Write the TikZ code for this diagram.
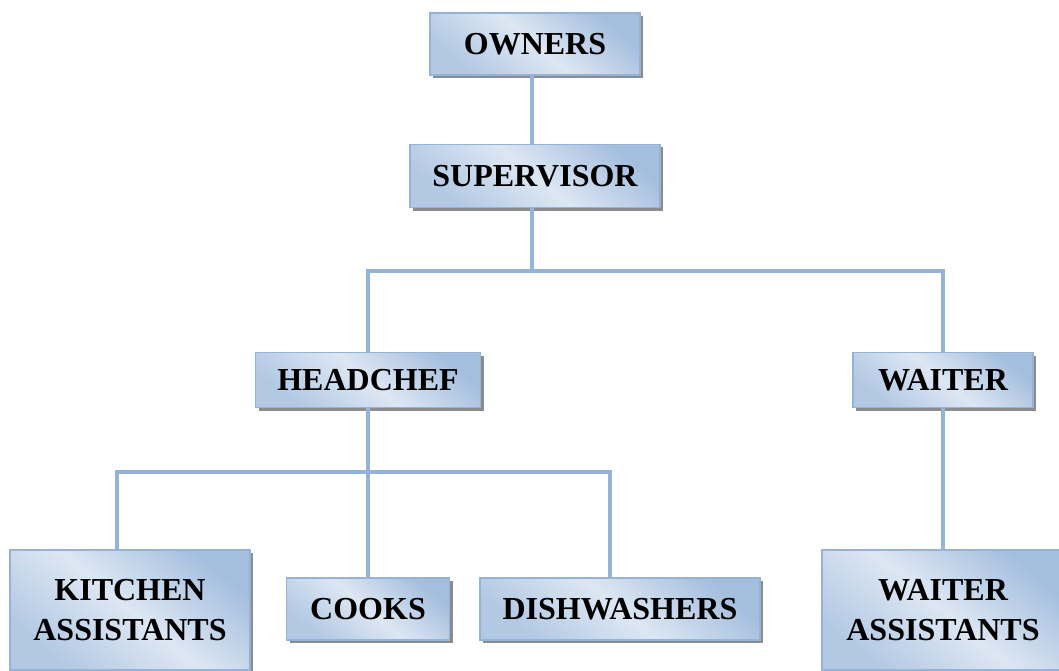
\documentclass[tikz,border=0pt]{standalone}
\usepackage{fontspec}
\setmainfont{Liberation Serif}
\usepackage{tikz}
\usetikzlibrary{shadows}
\definecolor{linkblue}{HTML}{95B3D7}
\definecolor{boxdark}{HTML}{A4BEDE}
\definecolor{boxlight}{HTML}{DDE7F3}
\definecolor{shadowgray}{HTML}{8C8C8C}
\tikzset{
  orgbox/.style={draw=linkblue, line width=1.5pt, top color=boxdark, bottom color=boxdark!85, middle color=boxlight,
    shading angle=-40, align=center, inner sep=0pt,
    font=\fontsize{32}{40}\selectfont\bfseries,
    general shadow={fill=shadowgray, shadow xshift=3pt, shadow yshift=-3pt}},
  link/.style={draw=linkblue, line width=3.5pt}
}

\begin{document}
\begin{tikzpicture}[x=1pt,y=-1pt]
      \useasboundingbox (0,0) rectangle (1059,671);

      %boxes
      \node[orgbox, minimum width=210, minimum height=62] (own) at (535,44) {OWNERS};
      \node[orgbox, minimum width=250, minimum height=63] (sup) at (535,176) {SUPERVISOR};
      \node[orgbox, minimum width=225, minimum height=55] (head) at (368,380) {HEADCHEF};
      \node[orgbox, minimum width=180, minimum height=55] (wait) at (943,380) {WAITER};
      \node[orgbox, minimum width=240, minimum height=120] (kit) at (130,610) {KITCHEN\\ASSISTANTS};
      \node[orgbox, minimum width=163, minimum height=62] (cook) at (368,609) {COOKS};
      \node[orgbox, minimum width=280, minimum height=62] (dish) at (620,609) {DISHWASHERS};
      \node[orgbox, minimum width=242, minimum height=120] (wass) at (943,610) {WAITER\\ASSISTANTS};

      %connectors
      \coordinate (busA) at (532,271);
      \coordinate (busB) at (366,472);
      \draw[link] ([xshift=-3pt]own.south) -- ([xshift=-3pt]sup.north);
      \draw[link] ([xshift=-3pt]sup.south) -- (busA);
      \draw[link] (head.north) |- (busA) -| (wait.north);
      \draw[link] (head.south) -- (cook.north);
      \draw[link] ([xshift=-13pt]kit.north) |- (busB) -| ([xshift=-10pt]dish.north);
      \draw[link] (wait.south) -- (wass.north);
\end{tikzpicture}
\end{document}
